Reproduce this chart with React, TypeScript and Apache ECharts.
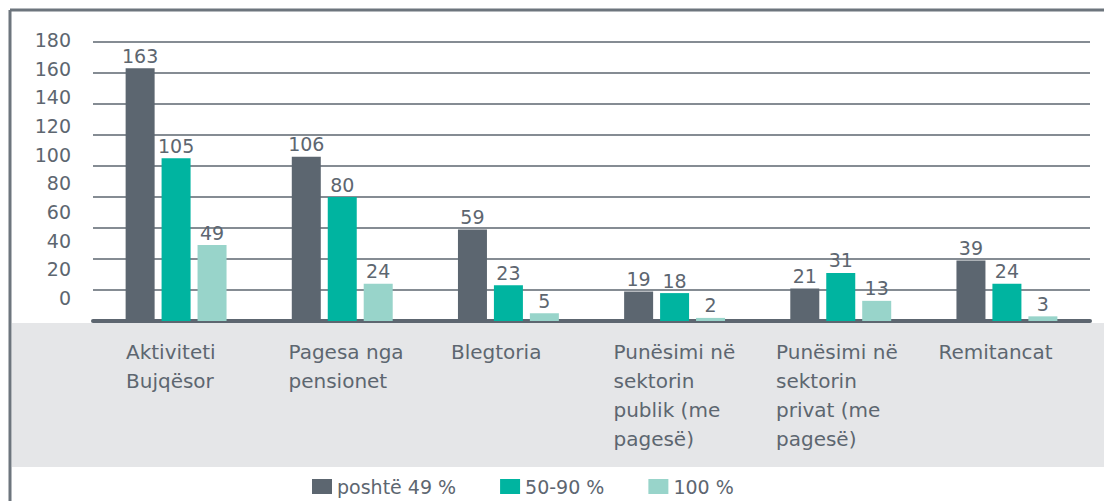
import React, { useEffect, useRef } from "react";
import * as echarts from "echarts";

const categories = [
  "Aktiviteti\nBujqësor",
  "Pagesa nga\npensionet",
  "Blegtoria",
  "Punësimi në\nsektorin\npublik (me\npagesë)",
  "Punësimi në\nsektorin\nprivat (me\npagesë)",
  "Remitancat",
];
const seriesNames = ["poshtë 49 %", "50-90 %", "100 %"];
const below49 = [163, 106, 59, 19, 21, 39];
const from50to90 = [105, 80, 23, 18, 31, 24];
const full100 = [49, 24, 5, 2, 13, 3];
const axisMin = 0;
const axisMax = 180;
const axisStep = 20;

const TEXT = "#5d6670";
const COLORS = ["#5c6670", "#00b4a0", "#98d4ca"];
const FONT = "DejaVu Sans";

export default function App() {
  const ref = useRef<HTMLDivElement>(null);
  useEffect(() => {
    if (!ref.current) return;
    const chart = echarts.init(ref.current, undefined, { renderer: "svg" });
    const values = [below49, from50to90, full100];
    const option: any = {
      animation: false,
      textStyle: { fontFamily: FONT },
      graphic: [
        {
          type: "rect",
          z: -10,
          silent: true,
          shape: { x: 12, y: 323, width: 1092, height: 144 },
          style: { fill: "#e5e6e8" },
        },
        {
          type: "line",
          silent: true,
          shape: { x1: 10, y1: 10, x2: 1104, y2: 10 },
          style: { stroke: "#6d757d", lineWidth: 3 },
        },
        {
          type: "line",
          silent: true,
          shape: { x1: 10, y1: 10, x2: 10, y2: 501 },
          style: { stroke: "#6d757d", lineWidth: 3 },
        },
      ],
      grid: [
        { left: 93, right: 14, top: 42, bottom: 180 },
        { left: 93, right: 14, top: 40, bottom: 203 },
        { left: 93, right: 14, top: 42, bottom: 180 },
      ],
      legend: {
        data: seriesNames,
        left: 312,
        top: 477,
        padding: 0,
        icon: "rect",
        itemWidth: 20,
        itemHeight: 15,
        itemGap: 44,
        textStyle: { color: TEXT, fontSize: 19, lineHeight: 18, fontFamily: FONT },
      },
      xAxis: [
        {
          type: "category",
          gridIndex: 0,
          data: categories,
          axisLine: { lineStyle: { color: "#5d6670", width: 4 } },
          axisTick: { show: false },
          axisLabel: { show: false },
        },
        { type: "category", gridIndex: 1, data: categories, show: false },
        {
          type: "category",
          gridIndex: 2,
          boundaryGap: false,
          data: [...categories, ""],
          axisLine: { show: false },
          axisTick: { show: false },
          axisLabel: {
            interval: 0,
            align: "left",
            verticalAlign: "top",
            padding: [0, 0, 0, 33],
            margin: 16,
            lineHeight: 29,
            fontSize: 20,
            color: TEXT,
            fontFamily: FONT,
          },
        },
      ],
      yAxis: [
        {
          type: "value",
          gridIndex: 0,
          min: axisMin,
          max: axisMax,
          interval: axisStep,
          axisLabel: { show: false },
          axisLine: { show: false },
          axisTick: { show: false },
          splitLine: { lineStyle: { color: "#858c93", width: 2 } },
        },
        {
          type: "value",
          gridIndex: 1,
          min: axisMin,
          max: axisMax,
          interval: axisStep,
          axisLine: { show: false },
          axisTick: { show: false },
          splitLine: { show: false },
          axisLabel: { margin: 22, fontSize: 19, color: TEXT, fontFamily: FONT },
        },
        { type: "value", gridIndex: 2, min: axisMin, max: axisMax, show: false },
      ],
      series: seriesNames.map((name, i) => ({
        name,
        type: "bar",
        xAxisIndex: 0,
        yAxisIndex: 0,
        data: values[i],
        barWidth: 29,
        barGap: "24%",
        itemStyle: { color: COLORS[i] },
        label: {
          show: true,
          position: "top",
          distance: 3,
          fontSize: 19,
          color: TEXT,
          fontFamily: FONT,
        },
      })),
    };
    chart.setOption(option);
    return () => chart.dispose();
  }, []);
  return (
    <div
      ref={ref}
      style={{ position: "absolute", left: 0, top: 0, width: 1104, height: 501, background: "#fff" }}
    />
  );
}
